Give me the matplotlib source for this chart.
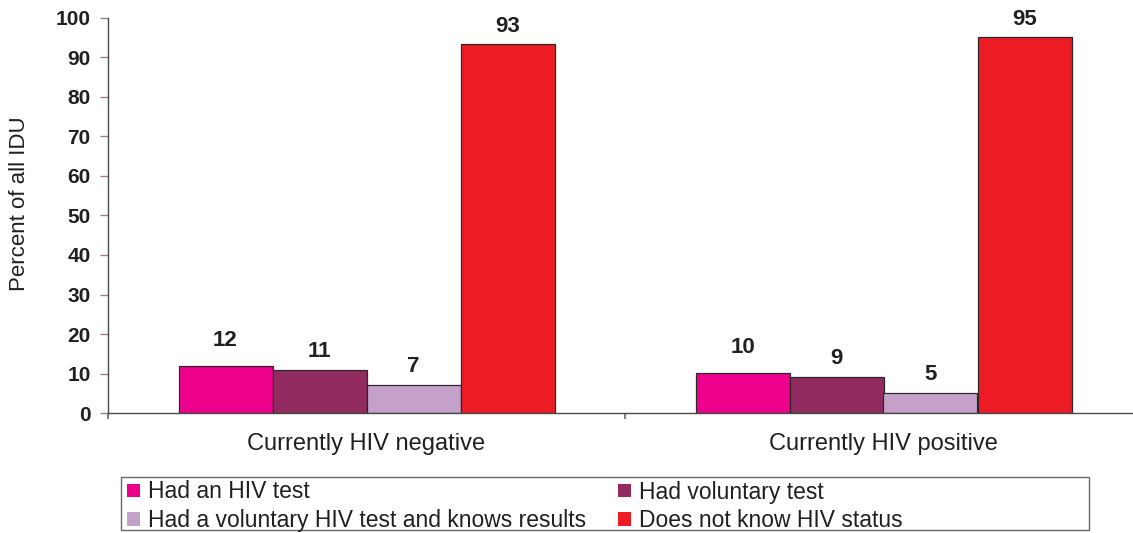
import matplotlib
matplotlib.use('Agg')
import matplotlib.pyplot as plt
from matplotlib.patches import Patch, Rectangle
import numpy as np

plt.rcParams['font.family'] = ['Liberation Sans', 'DejaVu Sans']

# ---- data ----
categories = ['Currently HIV negative', 'Currently HIV positive']
series_names = ['Had an HIV test', 'Had voluntary test',
                'Had a voluntary HIV test and knows results', 'Does not know HIV status']
had_hiv_test = [11.9, 10.3]
had_voluntary_test = [11.0, 9.1]
voluntary_knows_results = [7.1, 5.2]
does_not_know_status = [93.3, 95.1]
y_ticks = [0, 10, 20, 30, 40, 50, 60, 70, 80, 90, 100]

series_values = [had_hiv_test, had_voluntary_test, voluntary_knows_results, does_not_know_status]

# ---- style ----
colors = ['#EC008C', '#922B5F', '#C5A0C8', '#ED1C24']
label_offsets_px = [20, 13, 13, 12]
text_color = '#231F20'

W, H = 1133, 533
fig = plt.figure(figsize=(W / 100, H / 100), dpi=100)
ax_left, ax_right = 108, 1142
ax_top, ax_bottom = 17.5, 413.3
ax = fig.add_axes([ax_left / W, 1 - ax_bottom / H, (ax_right - ax_left) / W, (ax_bottom - ax_top) / H])

x = np.arange(len(categories))
bw = 94 / 517
for i, (vals, c) in enumerate(zip(series_values, colors)):
    xs = x + (i - 1.5) * bw
    ax.bar(xs, vals, width=bw, color=c, edgecolor='#2a2a2a', linewidth=0.9,
           label=series_names[i], zorder=2)
    for xi, v in zip(xs, vals):
        ax.annotate(f'{round(v)}', (xi, v), xytext=(0, label_offsets_px[i] * 0.72),
                    textcoords='offset points', ha='center', va='baseline',
                    fontsize=16, fontweight='bold', color=text_color)

ax.set_xlim(-0.5, 1.5)
ax.set_ylim(0, 100)
ax.set_yticks(y_ticks)
ax.set_yticklabels([str(t) for t in y_ticks], fontsize=15, fontweight='bold', color=text_color)
ax.tick_params(axis='y', direction='out', length=5.5, width=1, color='#a07c7c', pad=7)

ax.set_xticks(x)
ax.set_xticklabels(categories, fontsize=17, color=text_color)
ax.tick_params(axis='x', which='major', length=0, pad=14)
ax.set_xticks([-0.5, 0.5, 1.5], minor=True)
ax.tick_params(axis='x', which='minor', direction='out', length=4.5, width=1.5, color='#808080')

for s in ['top', 'right']:
    ax.spines[s].set_visible(False)
for s in ['left', 'bottom']:
    ax.spines[s].set_color('#4a4a4a')
    ax.spines[s].set_linewidth(1.0)

fig.text(20 / W, 1 - 204 / H, 'Percent of all IDU', rotation=90, ha='center', va='center',
         fontsize=16, color=text_color)

# legend box
fig.patches.append(Rectangle((121.3 / W, 1 - 530 / H), (1089 - 121.3) / W, (530 - 477.3) / H,
                             transform=fig.transFigure, fill=False, edgecolor='#6a6a6a',
                             linewidth=1.0))

fs = 16.5
fs_px = fs * 100 / 72
leg_kw = dict(loc='upper left', frameon=False, fontsize=fs, handlelength=13 / fs_px,
              handleheight=12 / fs_px, handletextpad=8 / fs_px, labelspacing=0.24,
              borderpad=0, borderaxespad=0, labelcolor=text_color)
h = [Patch(facecolor=c) for c in colors]
fig.legend([h[0], h[2]], [series_names[0], series_names[2]],
           bbox_to_anchor=(127 / W, 1 - 480.5 / H), **leg_kw)
fig.legend([h[1], h[3]], [series_names[1], series_names[3]],
           bbox_to_anchor=(617.7 / W, 1 - 480.5 / H), **leg_kw)

fig.savefig('out.png', dpi=100)
